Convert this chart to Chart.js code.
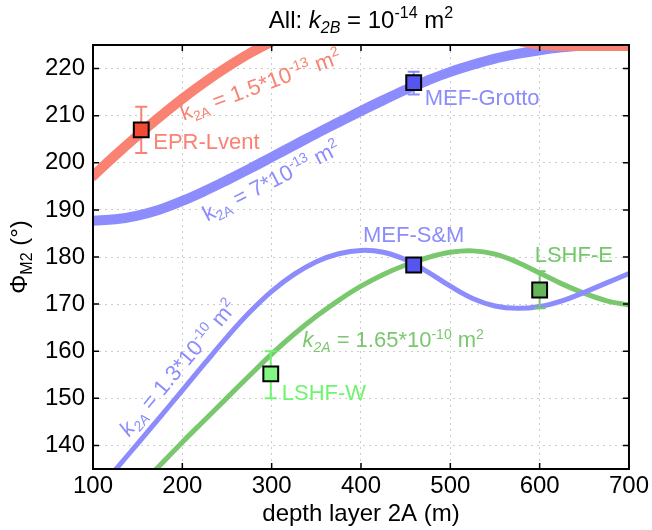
<!DOCTYPE html>
<html>
<head>
<meta charset="utf-8">
<script src="https://cdn.jsdelivr.net/npm/chart.js@4"></script>
<style>
  html, body { margin: 0; padding: 0; background: #fff; }
</style>
</head>
<body>
<canvas id="phiChart" width="652" height="530"></canvas>
<script>
// depth of layer 2A (m)
const depths = [100, 125, 150, 175, 200, 225, 250, 275, 300, 325, 350, 375, 400,
                425, 450, 475, 500, 525, 550, 575, 600, 625, 650, 675, 700];
// phase (deg) for each k2A
const phiK15e13 = [197.2, 201.6, 205.8, 209.8, 213.6, 217.1, 220.3, 223.2, 225.7, 227.8, 229.5, 230.8, 231.7,
                   232.2, 232.3, 232.0, 231.2, 229.7, 227.6, 225.9, 225.1, 224.8, 224.8, 224.8, 224.8];
const phiK7e13  = [187.7, 188.0, 188.8, 190.1, 191.9, 194.0, 196.3, 198.7, 201.2, 203.7, 206.2, 208.6, 211.0,
                   213.3, 215.5, 217.5, 219.3, 220.8, 222.1, 223.1, 223.9, 224.5, 224.9, 225.0, 225.0];
const phiK13e10 = [129.2, 134.8, 140.4, 146.0, 151.7, 157.4, 163.0, 168.2, 172.7, 176.3, 179.0, 180.7, 181.4,
                   181.0, 179.4, 176.8, 173.8, 171.2, 169.6, 169.1, 169.5, 170.7, 172.5, 174.5, 176.5];
const phiK165e10 = [121.0, 126.0, 131.0, 135.8, 140.7, 145.4, 150.1, 154.8, 159.4, 163.6, 167.4, 170.8, 173.8,
                    176.3, 178.3, 179.9, 181.0, 181.3, 180.6, 178.9, 176.6, 174.3, 172.3, 170.7, 169.8];

// vent sites
const siteNames = ['EPR-Lvent', 'MEF-Grotto', 'MEF-S&M', 'LSHF-E', 'LSHF-W'];
const siteDepth = [154, 459, 459, 600, 299];
const sitePhi = [207, 217, 178.3, 173, 155.2];
const siteErrLow = [202.1, 214.5, 177.8, 169.1, 150];
const siteErrHigh = [211.9, 219.3, 178.8, 177, 160];

const xTicks = [100, 200, 300, 400, 500, 600, 700];
const yTicks = [140, 150, 160, 170, 180, 190, 200, 210, 220];

const FONT = 'Helvetica, "Liberation Sans", Arial, sans-serif';
const RED = 'rgb(250,130,114)';
const BLUE = 'rgb(140,140,252)';
const GREEN = 'rgb(122,200,110)';

const siteFill = ['rgb(242,75,52)', 'rgb(85,85,240)', 'rgb(85,85,240)', 'rgb(100,180,90)', 'rgb(130,245,130)'];
const siteText = [RED, BLUE, BLUE, 'rgb(115,200,105)', 'rgb(110,245,110)'];
// label offsets from the marker, px
const siteLabelPos = [
  { dx: 12, dy: 13, align: 'left' },
  { dx: 11, dy: 16, align: 'left' },
  { dx: 0, dy: -29, align: 'center' },
  { dx: -5, dy: -34, align: 'left' },
  { dx: 11, dy: 20, align: 'left' }
];

const curveLabels = [
  { x: 288, y: 216.3, rot: -20, color: RED,
    segs: [['k'], ['2A', 'sub'], [' = 1.5*10'], ['-13', 'sup'], [' m'], ['2', 'sup']] },
  { x: 300, y: 195.9, rot: -27, color: BLUE,
    segs: [['k'], ['2A', 'sub'], [' = 7*10'], ['-13', 'sup'], [' m'], ['2', 'sup']] },
  { x: 196, y: 156.3, rot: -50, color: BLUE,
    segs: [['k', 'i'], ['2A', 'subi'], [' = 1.3*10'], ['-10', 'sup'], [' m'], ['2', 'sup']] },
  { x: 436, y: 162.1, rot: 0, color: GREEN,
    segs: [['k', 'i'], ['2A', 'subi'], [' = 1.65*10'], ['-10', 'sup'], [' m'], ['2', 'sup']] }
];

function segFont(style, size) {
  const small = style === 'sub' || style === 'subi' || style === 'sup';
  const italic = style === 'i' || style === 'subi';
  return (italic ? 'italic ' : '') + Math.round(small ? size * 0.66 : size) + 'px ' + FONT;
}

// draws text with sub/superscripts centred on (x, y)
function drawRich(ctx, segs, x, y, size, color, rot) {
  ctx.save();
  ctx.translate(x, y);
  ctx.rotate((rot || 0) * Math.PI / 180);
  ctx.fillStyle = color;
  ctx.textBaseline = 'middle';
  ctx.textAlign = 'left';
  let total = 0;
  segs.forEach(s => { ctx.font = segFont(s[1], size); total += ctx.measureText(s[0]).width; });
  let cx = -total / 2;
  segs.forEach(s => {
    ctx.font = segFont(s[1], size);
    let off = 0;
    if (s[1] === 'sub' || s[1] === 'subi') off = size * 0.32;
    if (s[1] === 'sup') off = -size * 0.3;
    ctx.fillText(s[0], cx, off);
    cx += ctx.measureText(s[0]).width;
  });
  ctx.restore();
}

const decorPlugin = {
  id: 'decor',
  beforeDatasetDraw(chart, args) {
    if (args.index !== 4) return;
    const ctx = chart.ctx, xs = chart.scales.x, ys = chart.scales.y;
    ctx.save();
    ctx.lineWidth = 2;
    siteDepth.forEach((d, i) => {
      const px = xs.getPixelForValue(d);
      const y1 = ys.getPixelForValue(siteErrLow[i]);
      const y2 = ys.getPixelForValue(siteErrHigh[i]);
      ctx.strokeStyle = siteText[i];
      ctx.beginPath();
      ctx.moveTo(px, y1); ctx.lineTo(px, y2);
      ctx.moveTo(px - 6, y1); ctx.lineTo(px + 6, y1);
      ctx.moveTo(px - 6, y2); ctx.lineTo(px + 6, y2);
      ctx.stroke();
    });
    ctx.restore();
  },
  afterDraw(chart) {
    const ctx = chart.ctx, a = chart.chartArea;
    const xs = chart.scales.x, ys = chart.scales.y;
    ctx.save();
    // frame
    ctx.strokeStyle = '#000';
    ctx.lineWidth = 2;
    ctx.strokeRect(a.left, a.top, a.right - a.left, a.bottom - a.top);
    // inward ticks
    ctx.lineWidth = 1.5;
    ctx.beginPath();
    xTicks.forEach(v => {
      const px = xs.getPixelForValue(v);
      ctx.moveTo(px, a.bottom); ctx.lineTo(px, a.bottom - 6);
      ctx.moveTo(px, a.top); ctx.lineTo(px, a.top + 6);
    });
    yTicks.forEach(v => {
      const py = ys.getPixelForValue(v);
      ctx.moveTo(a.left, py); ctx.lineTo(a.left + 6, py);
      ctx.moveTo(a.right, py); ctx.lineTo(a.right - 6, py);
    });
    ctx.stroke();

    const mid = (a.left + a.right) / 2;
    // title
    drawRich(ctx, [['All: '], ['k', 'i'], ['2B', 'subi'], [' = 10'], ['-14', 'sup'], [' m'], ['2', 'sup']],
      mid, 21, 23.5, '#000', 0);
    // axis titles
    drawRich(ctx, [['depth layer 2A (m)']], mid, 514, 24, '#000', 0);
    drawRich(ctx, [['\u03A6'], ['M2', 'sub'], [' (\u00B0)']], 20, (a.top + a.bottom) / 2, 24, '#000', -90);

    // curve labels
    curveLabels.forEach(l => {
      drawRich(ctx, l.segs, xs.getPixelForValue(l.x), ys.getPixelForValue(l.y), 21.5, l.color, l.rot);
    });

    // site labels
    ctx.font = '22px ' + FONT;
    ctx.textBaseline = 'middle';
    siteNames.forEach((n, i) => {
      const p = siteLabelPos[i];
      ctx.fillStyle = siteText[i];
      ctx.textAlign = p.align;
      ctx.fillText(n, xs.getPixelForValue(siteDepth[i]) + p.dx, ys.getPixelForValue(sitePhi[i]) + p.dy);
    });
    ctx.restore();
  }
};

function curve(data, color, width, order) {
  return {
    type: 'line',
    data: depths.map((d, i) => ({ x: d, y: data[i] })),
    borderColor: color,
    borderWidth: width,
    pointRadius: 0,
    tension: 0.4,
    clip: 0,
    order: order,
    borderCapStyle: 'round'
  };
}

const ctx = document.getElementById('phiChart').getContext('2d');
const chart = new Chart(ctx, {
  data: {
    datasets: [
      curve(phiK15e13, RED, 10, 3),
      curve(phiK7e13, BLUE, 10, 4),
      curve(phiK165e10, GREEN, 5, 2),
      curve(phiK13e10, BLUE, 5, 1),
      {
        type: 'scatter',
        data: siteDepth.map((d, i) => ({ x: d, y: sitePhi[i] })),
        pointStyle: 'rect',
        pointRadius: 10.5,
        pointBackgroundColor: siteFill,
        pointBorderColor: '#000',
        pointBorderWidth: 2,
        order: 0,
        clip: false
      }
    ]
  },
  options: {
    responsive: false,
    animation: false,
    layout: { padding: { top: 45, right: 20, left: 0, bottom: 0 } },
    plugins: {
      legend: { display: false },
      tooltip: { enabled: false },
      title: { display: false }
    },
    scales: {
      x: {
        type: 'linear',
        min: 100,
        max: 700,
        afterFit(scale) { scale.height = 61; },
        afterBuildTicks(scale) { scale.ticks = xTicks.map(v => ({ value: v })); },
        ticks: { color: '#000', padding: 3, font: { size: 24, family: FONT }, maxRotation: 0 },
        grid: { color: 'rgba(0,0,0,0.2)', lineWidth: 1, drawTicks: false },
        border: { display: false, dash: [2, 4] }
      },
      y: {
        type: 'linear',
        min: 135,
        max: 225,
        afterFit(scale) { scale.width = 93; },
        afterBuildTicks(scale) { scale.ticks = yTicks.map(v => ({ value: v })); },
        ticks: { color: '#000', padding: 8, font: { size: 24, family: FONT } },
        grid: { color: 'rgba(0,0,0,0.2)', lineWidth: 1, drawTicks: false },
        border: { display: false, dash: [2, 4] }
      }
    }
  },
  plugins: [decorPlugin]
});
</script>
</body>
</html>
